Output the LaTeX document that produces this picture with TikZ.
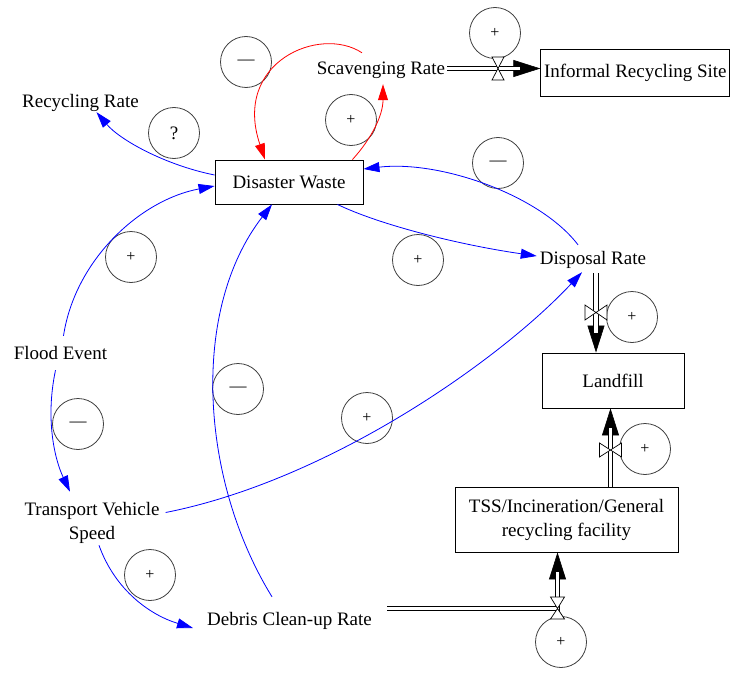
\documentclass[tikz,border=0pt]{standalone}
\usepackage{fontspec}
\setmainfont{Liberation Serif}
\usetikzlibrary{arrows.meta,calc}
\begin{document}
\begin{tikzpicture}[x=1pt,y=-1pt,
  lbl/.style={inner sep=2pt, font=\fontsize{19}{24}\selectfont, text height=13pt, text depth=4pt},
  lbltwo/.style={inner sep=2pt, font=\fontsize{19}{24}\selectfont, align=center},
  stock/.style={draw=black, line width=0.9pt, inner sep=0pt, font=\fontsize{19}{24}\selectfont, align=center},
  pol/.style={circle, draw=black!75, line width=0.8pt, minimum size=51pt, inner sep=0pt},
  polplus/.style={pol, font=\fontsize{16}{16}\selectfont},
  polminus/.style={pol, font=\fontsize{17}{17}\selectfont},
  polq/.style={pol, font=\fontsize{19}{19}\selectfont},
  blink/.style={draw=blue, line width=0.8pt, -{Triangle[length=16pt,width=10pt]}},
  rlink/.style={draw=red, line width=0.8pt, -{Triangle[length=16pt,width=10pt]}},
  pipe/.style={draw=black, line width=0.9pt, double=white, double distance=3.6pt, shorten >=20pt},
  pipetip/.style={draw=black, line width=0.6pt, -{Triangle[length=27pt,width=17pt]}},
  valve/.style={draw=black, line width=0.7pt, fill=white, line join=miter}
]
\useasboundingbox (0,0) rectangle (733,674);

% stocks
\node[stock, minimum width=189pt, minimum height=47pt] (irs) at (635.3,73) {Informal Recycling Site};
\node[stock, minimum width=148pt, minimum height=44pt] (dw) at (289,182) {Disaster Waste};
\node[stock, minimum width=142pt, minimum height=55pt] (landfill) at (613,380.5) {Landfill};
\node[stock, minimum width=223pt, minimum height=65pt] (tss) at (566.5,519.5) {TSS/Incineration/General\\recycling facility};

% variables
\node[lbl] (scav) at (381,70.5) {Scavenging Rate};
\node[lbl] (recyc) at (80.5,103.5) {Recycling Rate};
\node[lbl] (disp) at (593,259.5) {Disposal Rate};
\node[lbl] (flood) at (60.5,354.5) {Flood Event};
\node[lbltwo] (tvs) at (92,522.5) {Transport Vehicle\\Speed};
\node[lbl] (debris) at (289.5,620.5) {Debris Clean-up Rate};

% polarity circles
\node[polminus] (p1) at (246,62) {—};
\node[polplus] (p2) at (495,33) {+};
\node[polq] (p3) at (174,133) {?};
\node[polplus] (p4) at (351,120) {+};
\node[polminus] (p5) at (498,163) {—};
\node[polplus] (p6) at (418,260) {+};
\node[polplus] (p7) at (131,257) {+};
\node[polplus] (p8) at (632,317) {+};
\node[polminus] (p9) at (78,424) {—};
\node[polminus] (p10) at (238,389) {—};
\node[polplus] (p11) at (367,418) {+};
\node[polplus] (p12) at (645,449) {+};
\node[polplus] (p13) at (150,575) {+};
\node[polplus] (p14) at (561,642) {+};

% red links
\draw[rlink] ($(scav.north)+(-19,-7)$) .. controls (320,25) and (232,62) .. ($(dw.north)+(-24,0)$);
\draw[rlink] ($(dw.north east)+(-11,0)$) .. controls (372,138) and (383,115) .. ($(scav.south)+(2,3)$);

% blue links
\draw[blink] ($(dw.west)+(0,-7)$) .. controls (165,165) and (120,140) .. ($(recyc.south)+(16,-2)$);
\draw[blink] ($(disp.north)+(-15,-4)$) .. controls (540,195) and (440,160) .. ($(dw.east)+(0,-13)$);
\draw[blink] ($(dw.south east)+(-26,0)$) .. controls (380,225) and (460,245) .. ($(disp.west)+(-1,-3.5)$);
\draw[blink] ($(flood.north)+(3,-8)$) .. controls (75,260) and (140,200) .. ($(dw.west)+(0,4)$);
\draw[blink] ($(flood.south)+(-5,5)$) .. controls (45,420) and (55,460) .. ($(tvs.north)+(-22,-8)$);
\draw[blink] ($(debris.north)+(-17.5,-13)$) .. controls (200,480) and (190,310) .. ($(dw.south)+(-17,0)$);
\draw[blink] ($(tvs.east)+(4,-10)$) .. controls (330,480) and (500,360) .. ($(disp.south)+(-11,2)$);
\draw[blink] ($(tvs.south)+(7,0)$) .. controls (115,590) and (150,615) .. ($(debris.west)+(-12,7.5)$);

% flows (pipes)
\coordinate (a1) at ($(scav.east)+(0,-2)$);
\draw[pipetip] (a1) -- (a1 -| irs.west);
\draw[pipe] (a1) -- (a1 -| irs.west);

\coordinate (a2) at ($(disp.south)+(3,3)$);
\draw[pipetip] (a2) -- (a2 |- landfill.north);
\draw[pipe] (a2) -- (a2 |- landfill.north);

\coordinate (a3) at ($(tss.north)+(44,0)$);
\draw[pipetip] (a3) -- (a3 |- landfill.south);
\draw[pipe] (a3) -- (a3 |- landfill.south);

\coordinate (a4) at ($(debris.east)+(13,-12)$);
\coordinate (a5) at ($(tss.south)+(-9,0)$);
\draw[pipetip] (a4) -- (a4 -| a5) -- (a5);
\draw[pipe] (a4) -- (a4 -| a5) -- (a5);

% valves
\draw[valve] (492,57) -- (504,57) -- (498,68.5) -- cycle;
\draw[valve] (492,80) -- (504,80) -- (498,68.5) -- cycle;

\draw[valve] (585,305) -- (585,320) -- (596,312.5) -- cycle;
\draw[valve] (607,305) -- (607,320) -- (596,312.5) -- cycle;

\draw[valve] (599.5,443) -- (599.5,457) -- (610.5,450) -- cycle;
\draw[valve] (621.5,443) -- (621.5,457) -- (610.5,450) -- cycle;

\draw[valve] (550.5,597) -- (564.5,597) -- (557.5,608.5) -- cycle;
\draw[valve] (550.5,619) -- (564.5,619) -- (557.5,608.5) -- cycle;
\end{tikzpicture}
\end{document}
